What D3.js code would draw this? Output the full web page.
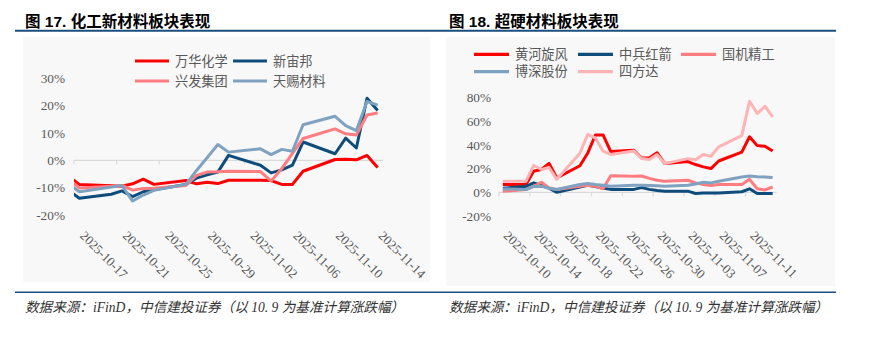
<!DOCTYPE html>
<html><head><meta charset="utf-8">
<script src="https://cdn.jsdelivr.net/npm/d3@7/dist/d3.min.js"></script>
<style>body{margin:0;background:#fff}</style>
</head><body>
<svg id="c" width="871" height="355" xmlns="http://www.w3.org/2000/svg"></svg>
<script>
// ---------- DATA ----------
const leftDates = ["2025-10-16","2025-10-17","2025-10-20","2025-10-21","2025-10-22","2025-10-23","2025-10-24",
  "2025-10-27","2025-10-28","2025-10-29","2025-10-30","2025-10-31","2025-11-03","2025-11-04","2025-11-05",
  "2025-11-06","2025-11-07","2025-11-10","2025-11-11","2025-11-12","2025-11-13","2025-11-14"];
const leftTickDates = ["2025-10-17","2025-10-21","2025-10-25","2025-10-29","2025-11-02","2025-11-06","2025-11-10","2025-11-14"];
const leftYTicks = [-20,-10,0,10,20,30];
const leftNames = ["万华化学","新宙邦","兴发集团","天赐材料"];
const wanhua   = [-5.9,-8.8,-9.3,-9.5,-8.6,-6.9,-8.8,-7.4,-8.6,-8.0,-8.5,-7.3,-7.3,-7.4,-8.8,-8.8,-4.0,0.3,0.4,0.2,1.8,-2.6];
const xinzhou  = [-11.0,-13.9,-12.4,-11.2,-13.3,-11.5,-10.8,-8.8,-6.5,-5.3,-4.3,1.8,-1.8,-4.6,-3.5,-1.8,6.7,2.4,8.1,4.5,22.7,18.2];
const xingfa   = [-6.9,-10.1,-9.5,-9.2,-10.9,-10.3,-10.2,-9.2,-5.5,-4.3,-4.2,-4.0,-4.1,-7.6,-3.0,2.5,8.0,11.5,9.7,9.3,16.6,17.3];
const tianci   = [-8.6,-11.5,-9.8,-9.2,-14.9,-12.7,-11.0,-8.8,-3.7,1.0,5.8,3.0,4.2,2.1,4.0,3.3,13.0,16.1,12.7,10.9,21.5,20.2];

const rightDates = ["2025-10-10","2025-10-13","2025-10-14","2025-10-15","2025-10-16","2025-10-17","2025-10-20",
  "2025-10-21","2025-10-22","2025-10-23","2025-10-24","2025-10-27","2025-10-28","2025-10-29","2025-10-30",
  "2025-10-31","2025-11-03","2025-11-04","2025-11-05","2025-11-06","2025-11-07","2025-11-10","2025-11-11",
  "2025-11-12","2025-11-13","2025-11-14"];
const rightTickDates = ["2025-10-10","2025-10-14","2025-10-18","2025-10-22","2025-10-26","2025-10-30","2025-11-03","2025-11-07","2025-11-11"];
const rightYTicks = [-20,0,20,40,60,80];
const rightNames = ["黄河旋风","中兵红箭","国机精工","博深股份","四方达"];
const huanghe   = [6.6,6.6,17.8,19.3,24.5,12.2,22.5,33.0,48.5,48.5,34.5,35.5,29.0,29.0,33.5,24.3,26.0,23.5,21.5,20.1,26.5,34.0,47.0,39.5,39.0,35.0];
const zhongbing = [3.5,5.0,8.0,6.0,3.5,0.0,4.5,6.0,5.0,3.5,2.5,2.5,4.0,2.5,1.5,1.0,1.0,-1.0,-0.5,-0.5,-0.5,0.5,3.0,-1.0,-1.0,-1.0];
const guoji     = [0.9,2.4,5.0,8.5,3.8,2.4,5.2,6.0,5.2,3.0,14.0,13.5,13.8,11.8,10.2,9.4,10.2,8.0,6.6,5.7,6.6,6.6,11.0,3.0,2.0,4.5];
const boshen    = [2.9,2.4,5.0,5.2,3.5,2.4,6.6,7.4,6.6,6.0,5.2,6.0,6.0,5.8,5.5,5.2,6.0,7.0,8.5,8.0,9.4,13.0,13.8,13.2,13.0,12.5];
const sifangda  = [9.4,9.4,22.7,19.3,21.0,11.0,33.0,48.9,46.0,34.8,32.0,35.0,28.6,27.7,32.0,24.3,28.5,27.5,32.0,30.5,38.5,48.0,77.0,66.6,72.8,63.8];

// ---------- DRAW ----------
const parse = d3.timeParse("%Y-%m-%d");
const HALF = 12*3600*1000;
const svg = d3.select("#c");
const serif = "'Liberation Serif','Times New Roman',serif";
const cjk = "'Noto Sans CJK SC','Liberation Sans',sans-serif";

// rules
svg.append("line").attr("x1",15).attr("x2",836).attr("y1",30.8).attr("y2",30.8).attr("stroke","#1b4f7d").attr("stroke-width",2);
svg.append("line").attr("x1",15).attr("x2",836).attr("y1",292.3).attr("y2",292.3).attr("stroke","#1b4f7d").attr("stroke-width",1.6);

function drawChart(cfg){
  const g = svg.append("g");
  g.append("rect").attr("x",cfg.box[0]).attr("y",cfg.box[1]).attr("width",cfg.box[2]).attr("height",cfg.box[3]).attr("fill","#f8f8f8");
  g.append("text").attr("x",cfg.titleX).attr("y",26.5).attr("font-family","'Liberation Sans','Noto Sans CJK SC',sans-serif")
    .attr("font-weight","bold").attr("font-size",15.5).attr("fill","#000").text(cfg.title);
  g.append("text").attr("x",cfg.titleX).attr("y",312).attr("font-family","'Liberation Serif','Noto Sans CJK SC',serif")
    .attr("font-style","italic").attr("font-size",13.6).attr("fill","#333").text("数据来源：iFinD，中信建投证券（以 10. 9 为基准计算涨跌幅）");

  const dates = cfg.dates.map(parse);
  const x = d3.scaleTime().domain([new Date(parse(cfg.xStart)-HALF), new Date(+parse(cfg.xEnd)+HALF)]).range(cfg.xRange);
  const y = d3.scaleLinear().domain(cfg.yDomain).range(cfg.yRange);

  // y axis labels
  const ya = g.append("g").attr("transform",`translate(${cfg.yLabelX},0)`)
    .call(d3.axisLeft(y).tickValues(cfg.yTicks).tickFormat(d=>d+"%").tickSize(0).tickPadding(0));
  ya.select(".domain").remove();
  ya.selectAll("text").attr("font-family",serif).attr("font-size",13.3).attr("fill","#595959");

  // x axis line at 0
  const y0 = y(0);
  g.append("line").attr("x1",cfg.xRange[0]).attr("x2",cfg.xRange[1]).attr("y1",y0).attr("y2",y0).attr("stroke","#d9d9d9").attr("stroke-width",1.2);
  const tds = cfg.ticks.map(parse);
  g.selectAll(".tk").data(tds).enter().append("line")
    .attr("x1",d=>x(new Date(d-HALF))).attr("x2",d=>x(new Date(d-HALF)))
    .attr("y1",y0).attr("y2",y0+4).attr("stroke","#d9d9d9").attr("stroke-width",1.2);
  g.selectAll(".tl").data(tds).enter().append("text")
    .attr("transform",d=>`translate(${x(d)},236.5) rotate(45)`)
    .attr("font-family",serif).attr("font-size",13).attr("fill","#595959")
    .text(d3.timeFormat("%Y-%m-%d"));

  // clip
  const cid = cfg.id+"clip";
  svg.append("clipPath").attr("id",cid).append("rect").attr("x",cfg.xRange[0]).attr("y",0).attr("width",cfg.xRange[1]-cfg.xRange[0]).attr("height",355);
  const line = d3.line().x((d,i)=>x(dates[i])).y(d=>y(d));
  const lg = g.append("g").attr("clip-path",`url(#${cid})`);
  cfg.series.forEach(s=>{
    lg.append("path").attr("d",line(s.values)).attr("fill","none").attr("stroke",s.color)
      .attr("stroke-width",3).attr("stroke-linejoin","round");
  });

  // legend
  cfg.series.forEach((s,i)=>{
    const p = cfg.legendPos[i];
    g.append("line").attr("x1",p[0]).attr("x2",p[0]+cfg.legendLen).attr("y1",p[1]).attr("y2",p[1]).attr("stroke",s.color).attr("stroke-width",3.2);
    g.append("text").attr("x",p[0]+cfg.legendLen+6).attr("y",p[1]).attr("dy","0.36em")
      .attr("font-family",cjk).attr("font-size",13.2).attr("fill","#595959").text(s.name);
  });
}

drawChart({
  id:"L", title:"图 17. 化工新材料板块表现", titleX:25, box:[23,37,407,245],
  dates:leftDates, xStart:"2025-10-17", xEnd:"2025-11-14", xRange:[74,383],
  yDomain:[-20,30], yRange:[215,78.3], yTicks:leftYTicks, yLabelX:65, ticks:leftTickDates,
  series:[
    {name:leftNames[0], values:wanhua, color:"#ff0000"},
    {name:leftNames[1], values:xinzhou, color:"#0e4d7b"},
    {name:leftNames[2], values:xingfa, color:"#ff7c80"},
    {name:leftNames[3], values:tianci, color:"#7ea2c0"}
  ],
  legendPos:[[135,61],[233,61],[135,81],[233,81]], legendLen:34
});

drawChart({
  id:"R", title:"图 18. 超硬材料板块表现", titleX:449, box:[446,37,389,249],
  dates:rightDates, xStart:"2025-10-10", xEnd:"2025-11-14", xRange:[499,776.5],
  yDomain:[-20,80], yRange:[216,97.7], yTicks:rightYTicks, yLabelX:491, ticks:rightTickDates,
  series:[
    {name:rightNames[0], values:huanghe, color:"#ff0000"},
    {name:rightNames[1], values:zhongbing, color:"#0e4d7b"},
    {name:rightNames[2], values:guoji, color:"#ff7c80"},
    {name:rightNames[3], values:boshen, color:"#7ea2c0"},
    {name:rightNames[4], values:sifangda, color:"#ffb3b5"}
  ],
  legendPos:[[474,54.3],[578,54.3],[681,54.3],[474,71.7],[578,71.7]], legendLen:35
});
</script>
</body></html>
